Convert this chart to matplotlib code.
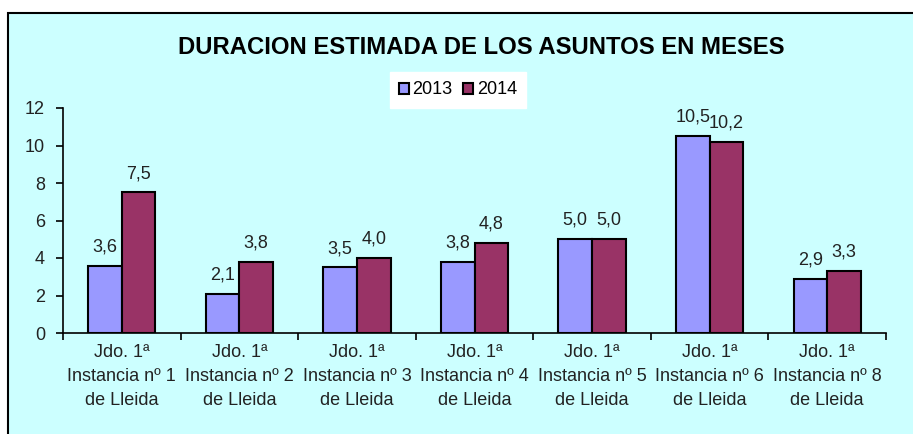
import numpy as np
import matplotlib.pyplot as plt
from matplotlib.patches import Rectangle, Patch

plt.rcParams['font.family'] = ['Liberation Sans', 'DejaVu Sans']

categories = ["Jdo. 1ª\nInstancia nº 1\nde Lleida",
              "Jdo. 1ª\nInstancia nº 2\nde Lleida",
              "Jdo. 1ª\nInstancia nº 3\nde Lleida",
              "Jdo. 1ª\nInstancia nº 4\nde Lleida",
              "Jdo. 1ª\nInstancia nº 5\nde Lleida",
              "Jdo. 1ª\nInstancia nº 6\nde Lleida",
              "Jdo. 1ª\nInstancia nº 8\nde Lleida"]
v2013 = [3.6, 2.1, 3.5, 3.8, 5.0, 10.5, 2.9]
v2014 = [7.5, 3.8, 4.0, 4.8, 5.0, 10.2, 3.3]
series_names = ["2013", "2014"]
yticks = [0, 2, 4, 6, 8, 10, 12]

c2013 = '#9999FF'
c2014 = '#993366'
bg = '#CCFFFF'
txt = '#222222'

W, H = 913, 434
fig = plt.figure(figsize=(W / 100, H / 100), dpi=100)
fig.patch.set_facecolor('white')

# chart area frame (cropped on right and bottom)
fig.patches.append(Rectangle((8 / W, -0.05), 1.0, (H - 13) / H + 0.05,
                             transform=fig.transFigure, facecolor=bg,
                             edgecolor='black', linewidth=1.5, zorder=-10))

ax = fig.add_axes([63 / W, 101 / H, (886 - 63) / W, (333 - 108) / H])
ax.set_facecolor('none')
ax.set_zorder(1)

x = np.arange(len(categories))
bw = 1 / 3.5
b1 = ax.bar(x - bw / 2, v2013, bw, color=c2013, edgecolor='black', linewidth=1.5, zorder=3)
b2 = ax.bar(x + bw / 2, v2014, bw, color=c2014, edgecolor='black', linewidth=1.5, zorder=3)

for bars, vals in ((b1, v2013), (b2, v2014)):
    for b, v in zip(bars, vals):
        ax.text(b.get_x() + b.get_width() / 2, v + 0.55,
                ('%.1f' % v).replace('.', ','), ha='center', va='bottom',
                fontsize=13, color=txt)

ax.set_xlim(-0.5, len(categories) - 0.5)
ax.set_ylim(0, 12)
ax.set_yticks(yticks)
ax.set_yticklabels([str(t) for t in yticks], fontsize=13, color=txt)
ax.set_xticks(x)
ax.set_xticklabels(categories, fontsize=13, color=txt, linespacing=1.55)
ax.tick_params(axis='x', length=0, pad=8)
ax.set_xticks(np.arange(len(categories) + 1) - 0.5, minor=True)
ax.tick_params(axis='x', which='minor', length=5, width=1.2, direction='out')
ax.tick_params(axis='y', length=5, width=1.2, direction='out', pad=8)

for s in ('top', 'right'):
    ax.spines[s].set_visible(False)
for s in ('left', 'bottom'):
    ax.spines[s].set_linewidth(1.2)

fig.text(481 / W, (H - 47) / H, "DURACION ESTIMADA DE LOS ASUNTOS EN MESES",
         ha='center', va='center', fontsize=17.2, fontweight='bold', color='black')

handles = [Patch(facecolor=c2013, edgecolor='black', linewidth=1.5),
           Patch(facecolor=c2014, edgecolor='black', linewidth=1.5)]
fig.legend(handles, series_names, loc='center', bbox_to_anchor=(458 / W, (H - 90) / H),
           ncol=2, fontsize=13, frameon=True, fancybox=False, edgecolor='white',
           framealpha=1, handlelength=0.55, handleheight=0.55, handletextpad=0.2,
           columnspacing=0.6, borderpad=0.5)

fig.savefig('out.png', dpi=100)
